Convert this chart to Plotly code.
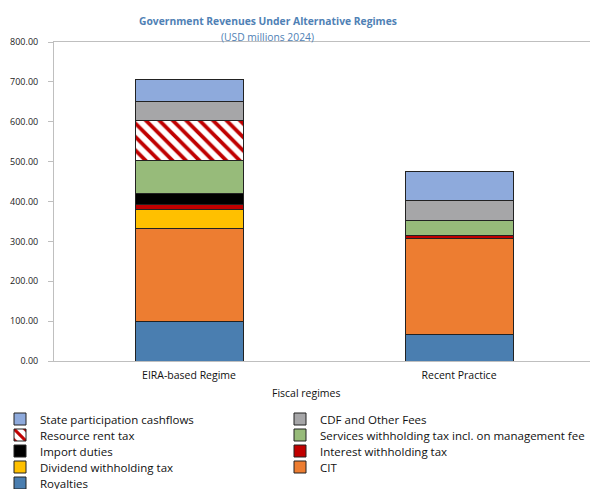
import plotly.graph_objects as go

categories = ["EIRA-based Regime", "Recent Practice"]
royalties = [100, 67]
cit = [233, 241]
dividend_wht = [48, 0]
interest_wht = [12, 6]
import_duties = [28, 0]
services_wht = [81, 38]
resource_rent_tax = [100, 0]
cdf_fees = [49, 50]
state_participation = [54, 72]

# (name, values, colour, legend row, legend column)
series = [
    ("Royalties", royalties, "#4a7eb0", 5, 0),
    ("CIT", cit, "#ed7d31", 4, 1),
    ("Dividend withholding tax", dividend_wht, "#ffc000", 4, 0),
    ("Interest withholding tax", interest_wht, "#c00000", 3, 1),
    ("Import duties", import_duties, "#000000", 3, 0),
    ("Services withholding tax incl. on management fee", services_wht, "#97bb7a", 2, 1),
    ("Resource rent tax", resource_rent_tax, None, 2, 0),
    ("CDF and Other Fees", cdf_fees, "#a6a6a8", 1, 1),
    ("State participation cashflows", state_participation, "#8eaadc", 1, 0),
]

col_x = [-11, 280]
row_top0 = 404.5
row_step = 16

fig = go.Figure()
legends = {}
for i, (name, vals, color, row, col) in enumerate(series):
    if color is None:
        marker = dict(color="#ffffff",
                      pattern=dict(shape="\\", fgcolor="#c00000", bgcolor="#ffffff",
                                   size=9.5, solidity=0.4, fillmode="replace"),
                      line=dict(color="#222222", width=1))
    else:
        marker = dict(color=color, line=dict(color="#222222", width=1))
    key = "legend" if i == 0 else f"legend{i + 1}"
    fig.add_trace(go.Bar(name=name, x=categories, y=vals, marker=marker, width=0.4, legend=key))
    legends[key] = dict(orientation="h", xref="container", yref="container",
                        xanchor="left", yanchor="top",
                        font=dict(family="Open Sans", size=11.5, color="#111111"),
                        bgcolor="rgba(0,0,0,0)",
                        x=col_x[col] / 590,
                        y=1 - (row_top0 + row_step * (row - 1)) / 489)

fig.update_layout(
    barmode="stack",
    width=590, height=489,
    margin=dict(l=54, r=0, t=42, b=128),
    paper_bgcolor="white", plot_bgcolor="white",
    font=dict(family="Open Sans", size=11, color="#222222"),
    showlegend=True,
    xaxis=dict(range=[-0.5, 1.485], showline=True, linecolor="#bfbfbf", linewidth=1,
               mirror=True, ticks="", ticklabelstandoff=4,
               tickfont=dict(size=10.5, color="#111111")),
    yaxis=dict(range=[0, 800], dtick=100, tickformat=".2f", showline=True,
               linecolor="#bfbfbf", linewidth=1, showgrid=False, ticks="outside",
               ticklen=5, tickcolor="#bfbfbf", ticklabelstandoff=8,
               tickfont=dict(size=9, color="#222222"), zeroline=False),
    annotations=[
        dict(text="<b>Government Revenues Under Alternative Regimes</b>", xref="paper", yref="paper",
             x=0.399, y=1 + 21 / 319, xanchor="center", yanchor="middle", showarrow=False,
             font=dict(size=10.3, color="#4f81b5")),
        dict(text="(USD millions 2024)", xref="paper", yref="paper",
             x=0.399, y=1 + 5 / 319, xanchor="center", yanchor="middle", showarrow=False,
             font=dict(size=10.3, color="#4f81b5")),
        dict(text="Fiscal regimes", xref="paper", yref="paper",
             x=0.47, y=-32 / 319, xanchor="center", yanchor="middle", showarrow=False,
             font=dict(size=10.5, color="#111111")),
    ],
    **legends,
)

fig.write_html("out.html")
